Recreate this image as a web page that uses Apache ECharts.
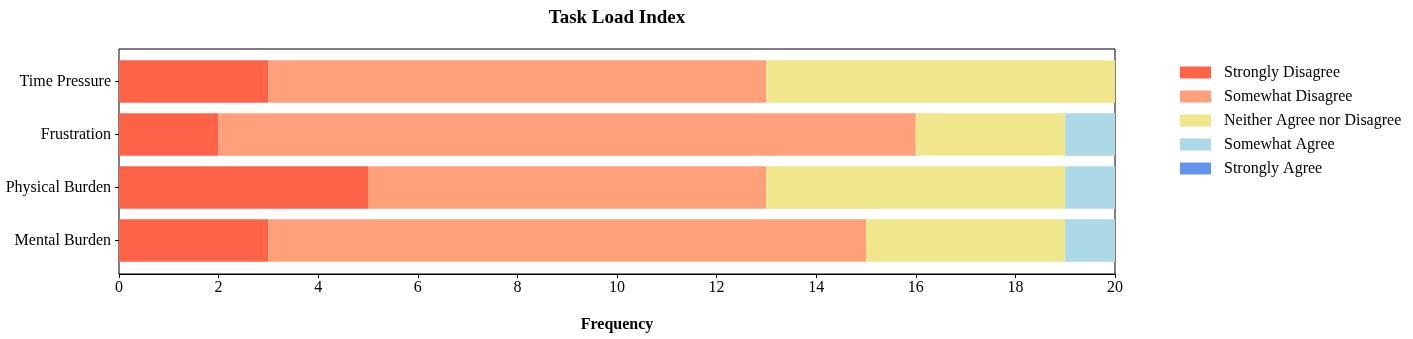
<!DOCTYPE html>
<html>
<head>
<meta charset="utf-8">
<script src="https://cdn.jsdelivr.net/npm/echarts@6/dist/echarts.min.js"></script>
<style>html,body{margin:0;padding:0;background:#fff;}#c{width:1413px;height:339px;}</style>
</head>
<body>
<div id="c"></div>
<script>
const categories = ['Mental Burden', 'Physical Burden', 'Frustration', 'Time Pressure'];
const seriesNames = ['Strongly Disagree', 'Somewhat Disagree', 'Neither Agree nor Disagree', 'Somewhat Agree', 'Strongly Agree'];
const stronglyDisagree = [3, 5, 2, 3];
const somewhatDisagree = [12, 8, 14, 10];
const neitherAgree = [4, 6, 3, 7];
const somewhatAgree = [1, 1, 1, 0];
const stronglyAgree = [0, 0, 0, 0];
const xTicks = [0, 2, 4, 6, 8, 10, 12, 14, 16, 18, 20];

const colors = ['#FF6347', '#FFA07A', '#F0E68C', '#ADD8E6', '#6495ED'];
const values = [stronglyDisagree, somewhatDisagree, neitherAgree, somewhatAgree, stronglyAgree];
const font = '"Liberation Serif", "Times New Roman", serif';

const chart = echarts.init(document.getElementById('c'), null, {renderer: 'canvas'});
chart.setOption({
  animation: false,
  textStyle: {fontFamily: font, color: '#000'},
  title: {
    text: 'Task Load Index', left: 612, top: 4, textAlign: 'center',
    textStyle: {fontFamily: font, fontWeight: 'bold', fontSize: 19, color: '#000'}
  },
  legend: {
    orient: 'vertical', left: 1180, top: 64, padding: 0,
    itemWidth: 31, itemHeight: 12, itemGap: 7,
    icon: 'rect',
    textStyle: {fontFamily: font, fontSize: 16, color: '#000', lineHeight: 17, padding: [0, 0, 0, 8]},
    data: seriesNames
  },
  grid: [
    {left: 119, width: 996, top: 55, height: 212, containLabel: false},
    {left: 119, width: 996, top: 49, height: 225, containLabel: false, show: true, borderColor: '#000', borderWidth: 1, backgroundColor: 'transparent'}
  ],
  xAxis: [
    {gridIndex: 0, type: 'value', min: 0, max: 20, show: false},
    {gridIndex: 1, type: 'value', min: 0, max: 20, interval: 2,
     name: 'Frequency', nameLocation: 'middle', nameGap: 43,
     nameTextStyle: {fontFamily: font, fontWeight: 'bold', fontSize: 16, color: '#000'},
     axisLine: {show: true, lineStyle: {color: '#000', width: 1}},
     axisTick: {show: true, length: 4, lineStyle: {color: '#000'}},
     axisLabel: {fontFamily: font, fontSize: 16, color: '#000', margin: 6,
       formatter: v => xTicks.includes(v) ? String(v) : ''},
     splitLine: {show: false}}
  ],
  yAxis: [
    {gridIndex: 0, type: 'category', data: categories,
     axisLine: {show: false},
     axisTick: {show: true, length: 4, alignWithLabel: true, lineStyle: {color: '#000'}},
     axisLabel: {fontFamily: font, fontSize: 16, color: '#000', margin: 8, padding: [3, 0, 0, 0]},
     splitLine: {show: false}},
    {gridIndex: 1, type: 'value', min: 0, max: 1, show: false}
  ],
  series: seriesNames.map((name, i) => ({
    name, type: 'bar', stack: 'total', xAxisIndex: 0, yAxisIndex: 0,
    barWidth: '80%', data: values[i],
    itemStyle: {color: colors[i]},
    emphasis: {disabled: true}
  }))
});
</script>
</body>
</html>
